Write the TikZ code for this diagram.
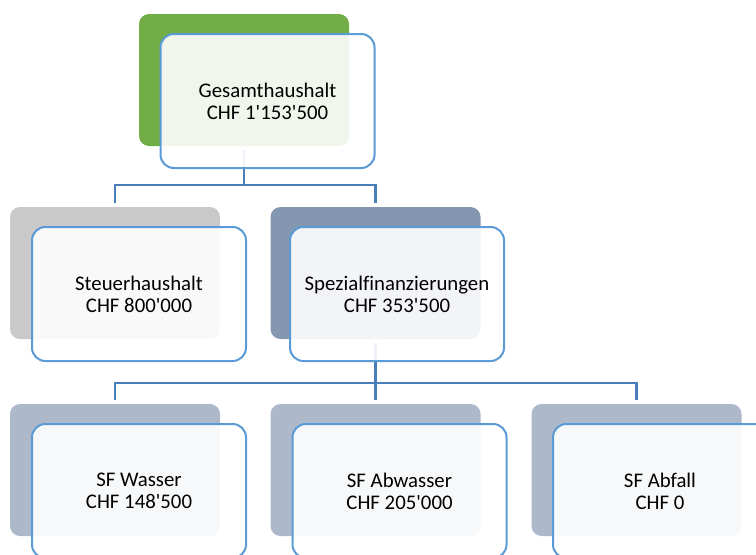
\documentclass[tikz,border=0pt]{standalone}
\usepackage{fontspec}
\setmainfont{Carlito}[Ligatures=CommonOff]
\definecolor{boxgreen}{HTML}{70AD47}
\definecolor{boxgray}{HTML}{C9C9C9}
\definecolor{boxslate}{HTML}{8497B0}
\definecolor{boxpale}{HTML}{ADB9CA}
\definecolor{boxborder}{HTML}{5B9BD5}
\definecolor{linkblue}{HTML}{4A7EBB}
\newcommand{\ap}{\textquotesingle}
\begin{document}
\begin{tikzpicture}[x=0.75pt,y=-0.75pt,
    back/.style={rectangle,rounded corners=7.5pt,minimum width=157.5pt,minimum height=99pt,inner sep=0pt},
    front/.style={rectangle,rounded corners=10pt,draw=boxborder,line width=1.5pt,fill=white,fill opacity=0.9,text opacity=1,
        minimum width=160.5pt,minimum height=100.5pt,inner sep=0pt,align=center,font=\fontsize{15.6}{16.6}\selectfont},
    conn/.style={draw=linkblue,line width=1.6pt,shorten <=3pt,shorten >=3pt}]
            \useasboundingbox (0,0) rectangle (756,554);
            \clip (0,0) rectangle (756,554);
            % back cards
            \node[back,fill=boxgreen] (1b) at (244,80) {};
            \node[back,fill=boxgray] (2b) at (115,273) {};
            \node[back,fill=boxslate] (3b) at (375.5,273) {};
            \node[back,fill=boxpale] (4b) at (115,470) {};
            \node[back,fill=boxpale] (5b) at (375.5,470) {};
            \node[back,fill=boxpale] (6b) at (636.5,470) {};
            % connectors
            \path[conn] (1b.south) -- ++(0,39) -| (2b.north);
            \path[conn] (1b.south) -- ++(0,39) -| (3b.north);
            \path[conn] (3b.south) -- ++(0,44) -| (4b.north);
            \path[conn] (3b.south) -- (5b.north);
            \path[conn] (3b.south) -- ++(0,44) -| (6b.north);
            % front cards
            \node[front] (1) at ([shift={(23.5,21)}]1b) {Gesamthaushalt\\CHF 1\ap153\ap500};
            \node[front] (2) at ([shift={(24,21)}]2b) {Steuerhaushalt\\CHF 800\ap000};
            \node[front] (3) at ([shift={(21.5,21)}]3b) {Spezialfinanzierungen\\CHF 353\ap500};
            \node[front] (4) at ([shift={(24,21)}]4b) {SF Wasser\\CHF 148\ap500};
            \node[front] (5) at ([shift={(24,21)}]5b) {SF Abwasser\\CHF 205\ap000};
            \node[front] (6) at ([shift={(23.5,21)}]6b) {SF Abfall\\CHF 0};
        \end{tikzpicture}
\end{document}
